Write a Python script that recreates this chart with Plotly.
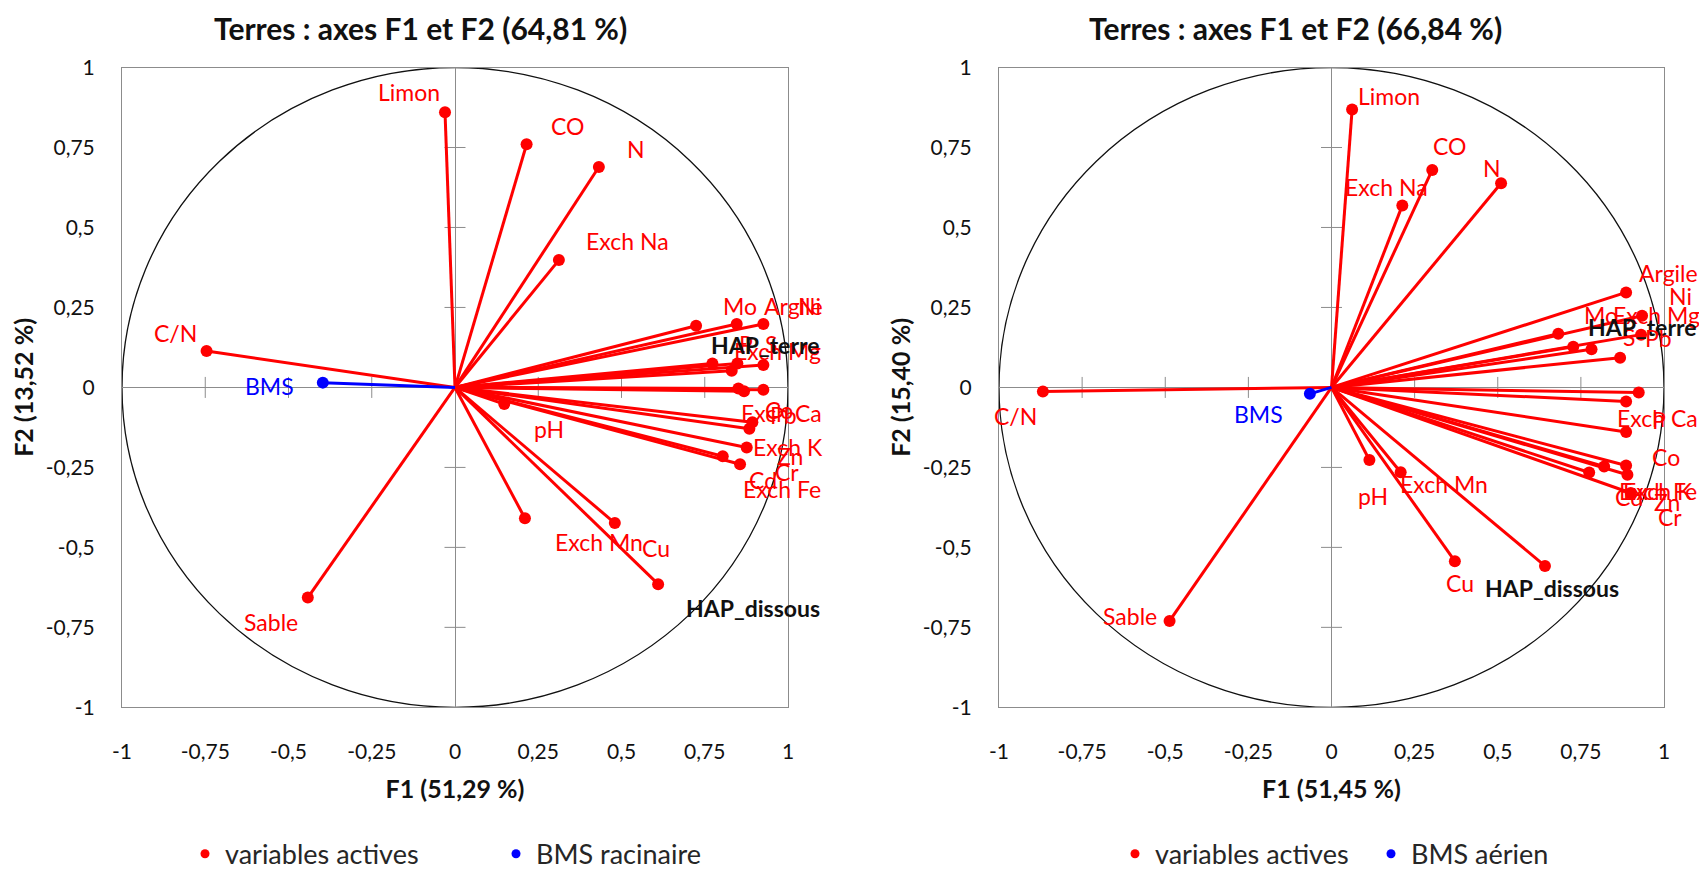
import plotly.graph_objects as go

# ---------------- data ----------------
variables = ["Limon", "CO", "N", "Exch Na", "C/N", "Sable", "pH", "Exch Mn", "Cu", "HAP_dissous",
             "Mo", "Argile", "Ni", "P", "S", "Exch Mg", "HAP_terre", "Co", "Pb", "Exch Ca",
             "Exch K", "Zn", "Cr", "Cd", "Exch Fe"]

# left panel : BMS racinaire
f1_left = [-0.030, 0.215, 0.432, 0.312, -0.746, -0.442, 0.148, 0.210, 0.480, 0.610,
           0.724, 0.846, 0.926, 0.773, 0.848, 0.831, 0.926, 0.851, 0.868, 0.926,
           0.893, 0.884, 0.876, 0.804, 0.856]
f2_left = [0.860, 0.760, 0.689, 0.398, 0.114, -0.657, -0.052, -0.409, -0.424, -0.615,
           0.193, 0.198, 0.198, 0.075, 0.075, 0.052, 0.070, -0.003, -0.012, -0.007,
           -0.109, -0.129, -0.188, -0.215, -0.240]
bms_left = (-0.397, 0.015)

# right panel : BMS aérien
f1_right = [0.062, 0.303, 0.510, 0.213, -0.868, -0.487, 0.114, 0.208, 0.371, 0.642,
            0.682, 0.886, 0.934, 0.886, 0.782, 0.931, 0.727, 0.886, 0.868, 0.924,
            0.886, 0.890, 0.900, 0.775, 0.820]
f2_right = [0.869, 0.680, 0.638, 0.569, -0.013, -0.730, -0.227, -0.265, -0.543, -0.558,
            0.168, 0.297, 0.224, -0.044, 0.119, 0.165, 0.127, -0.139, 0.093, -0.016,
            -0.244, -0.273, -0.330, -0.266, -0.247]
bms_right = (-0.065, -0.020)

titles = ["Terres : axes F1 et F2 (64,81 %)", "Terres : axes F1 et F2 (66,84 %)"]
xtitles = ["F1 (51,29 %)", "F1 (51,45 %)"]
ytitles = ["F2 (13,52 %)", "F2 (15,40 %)"]
bms_names = ["BMS racinaire", "BMS aérien"]
tick_vals = [-1, -0.75, -0.5, -0.25, 0, 0.25, 0.5, 0.75, 1]
tick_text = ["-1", "-0,75", "-0,5", "-0,25", "0", "0,25", "0,5", "0,75", "1"]

# label placement (pixel offsets of label centre from its point)
dx_left = [-36, 41, 37, 69, -31, -37, 45, 74, 41, 95,
           44, 57, 46, 34, 34, 46, 2, 41, 39, 18,
           36, 41, 40, 40, 42]
dy_left = [-20, -18, -18, -19, -18, 24, 25, 24, 25, 24,
           -20, -18, -18, -19, -19, -20, -20, 22, 24, 23,
           25, 27, 24, 24, 25]
dx_right = [37, 17, -9, -16, -27, -40, 4, 43, 5, 7,
            43, 42, 38, 33, 37, 15, 69, 40, 38, 19,
            32, 40, 39, 40, 54]
dy_right = [-13, -24, -15, -18, 24, -5, 36, 12, 22, 22,
            -19, -19, -20, 19, -12, -20, -20, 25, -20, 25,
            26, 27, 24, 24, 25]
bms_off = [(-53, 3), (-51, 20)]

RED = "#FF0000"
BLUE = "#0000FF"
GRAY = "#8C8C8C"
FONT = "Lato"

# the page body adds an 8 px margin: the figure fills the rest of the 1707x879 window
OFF = 8
W, H = 1707 - OFF, 879 - OFF


def px(xp):
    return (xp - OFF) / W


def py(yp):
    return 1 - (yp - OFF) / H


xdoms = [[px(122), px(788)], [px(999), px(1664)]]
ydom = [py(713), py(68)]
legend_x = [[px(177 + OFF), px(488 + OFF)], [px(1107 + OFF), px(1363 + OFF)]]
title_x = [px(420), px(1295)]

fig = go.Figure()
annotations = []
shapes = []

panels = [(f1_left, f2_left, bms_left, dx_left, dy_left),
          (f1_right, f2_right, bms_right, dx_right, dy_right)]

for i, (fx, fy, bms, dxs, dys) in enumerate(panels):
    xa = "x" if i == 0 else "x2"
    ya = "y" if i == 0 else "y2"
    leg_a = "legend" if i == 0 else "legend3"
    leg_b = "legend2" if i == 0 else "legend4"

    # small cross ticks along the zero axes
    tv = [t for t in tick_vals if t not in (-1, 0, 1)]
    fig.add_trace(go.Scatter(x=tv, y=[0] * len(tv), xaxis=xa, yaxis=ya, mode="markers",
                             marker=dict(symbol="line-ns", size=15, line=dict(color=GRAY, width=1)),
                             showlegend=False, hoverinfo="skip"))
    fig.add_trace(go.Scatter(x=[0] * len(tv), y=tv, xaxis=xa, yaxis=ya, mode="markers",
                             marker=dict(symbol="line-ew", size=15, line=dict(color=GRAY, width=1)),
                             showlegend=False, hoverinfo="skip"))

    # vectors
    lx, ly = [], []
    for a, b in zip(fx, fy):
        lx += [0, a, None]
        ly += [0, b, None]
    fig.add_trace(go.Scatter(x=lx, y=ly, xaxis=xa, yaxis=ya, mode="lines",
                             line=dict(color=RED, width=3), showlegend=False, hoverinfo="skip"))
    fig.add_trace(go.Scatter(x=[0, bms[0]], y=[0, bms[1]], xaxis=xa, yaxis=ya, mode="lines",
                             line=dict(color=BLUE, width=3), showlegend=False, hoverinfo="skip"))
    fig.add_trace(go.Scatter(x=fx, y=fy, xaxis=xa, yaxis=ya, mode="markers",
                             marker=dict(color=RED, size=12), name="variables actives",
                             showlegend=False, text=variables, hoverinfo="text+x+y"))
    fig.add_trace(go.Scatter(x=[bms[0]], y=[bms[1]], xaxis=xa, yaxis=ya, mode="markers",
                             marker=dict(color=BLUE, size=12), name=bms_names[i],
                             showlegend=False, hoverinfo="x+y"))
    # legend entries
    fig.add_trace(go.Scatter(x=[None], y=[None], xaxis=xa, yaxis=ya, mode="markers",
                             marker=dict(color=RED, size=9), name="variables actives",
                             legend=leg_a, showlegend=True))
    fig.add_trace(go.Scatter(x=[None], y=[None], xaxis=xa, yaxis=ya, mode="markers",
                             marker=dict(color=BLUE, size=9), name=bms_names[i],
                             legend=leg_b, showlegend=True))

    # labels
    for name, a, b, dx, dy in zip(variables, fx, fy, dxs, dys):
        hap = name.startswith("HAP")
        annotations.append(dict(x=a, y=b, xref=xa, yref=ya, text=name, showarrow=False,
                                xshift=dx, yshift=-dy, xanchor="center", yanchor="middle",
                                font=dict(family=FONT, size=23,
                                          color="#111111" if hap else RED,
                                          weight="bold" if hap else "normal")))
    annotations.append(dict(x=bms[0], y=bms[1], xref=xa, yref=ya, text="BMS", showarrow=False,
                            xshift=bms_off[i][0], yshift=-bms_off[i][1],
                            xanchor="center", yanchor="middle",
                            font=dict(family=FONT, size=23, color=BLUE)))

    # correlation circle
    shapes.append(dict(type="circle", xref=xa, yref=ya, x0=-1, y0=-1, x1=1, y1=1,
                       line=dict(color="#111111", width=1.3), layer="below"))

    # title
    annotations.append(dict(x=title_x[i], y=py(28), xref="paper", yref="paper", text=titles[i],
                            showarrow=False, xanchor="center", yanchor="middle",
                            font=dict(family=FONT, size=30, color="#111111", weight="bold")))

axis_common = dict(range=[-1, 1], tickvals=tick_vals, ticktext=tick_text, showgrid=False,
                   zeroline=True, zerolinecolor=GRAY, zerolinewidth=1, automargin=False,
                   showline=True, mirror=True, linecolor=GRAY, linewidth=1, ticks="",
                   tickfont=dict(family=FONT, size=21, color="#111111"), fixedrange=True)

layout_axes = {}
for i in range(2):
    sx = "xaxis" if i == 0 else "xaxis2"
    sy = "yaxis" if i == 0 else "yaxis2"
    layout_axes[sx] = dict(axis_common, domain=xdoms[i], anchor="y" if i == 0 else "y2",
                           ticklabelstandoff=25,
                           title=dict(text=xtitles[i], standoff=18,
                                      font=dict(family=FONT, size=25, color="#111111", weight="bold")))
    layout_axes[sy] = dict(axis_common, domain=ydom, anchor="x" if i == 0 else "x2",
                           ticklabelstandoff=22,
                           title=dict(text=ytitles[i], standoff=4,
                                      font=dict(family=FONT, size=25, color="#111111", weight="bold")))

legend_common = dict(orientation="h", yanchor="middle", y=py(861), xanchor="left",
                     font=dict(family=FONT, size=27, color="#262626"), itemwidth=30,
                     bgcolor="rgba(0,0,0,0)", itemclick=False, itemdoubleclick=False)

fig.update_layout(
    width=W, height=H, margin=dict(l=0, r=0, t=0, b=0),
    paper_bgcolor="white", plot_bgcolor="white",
    showlegend=True,
    legend=dict(legend_common, x=legend_x[0][0]),
    legend2=dict(legend_common, x=legend_x[0][1]),
    legend3=dict(legend_common, x=legend_x[1][0]),
    legend4=dict(legend_common, x=legend_x[1][1]),
    annotations=annotations, shapes=shapes,
    **layout_axes,
)

fig.write_html("out.html")
